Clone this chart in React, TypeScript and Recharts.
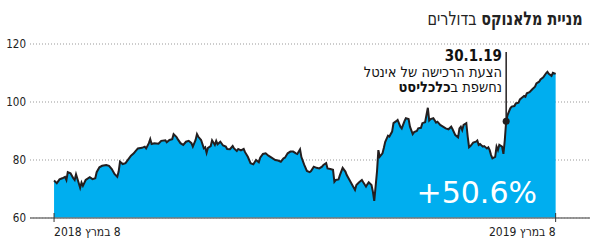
import React from 'react';
import {
  AreaChart,
  Area,
  XAxis,
  YAxis,
  CartesianGrid,
  ReferenceDot,
  ReferenceLine,
} from 'recharts';

// days since 8 March 2018
const days = [
  0, 2, 4, 6, 8, 9, 10, 12, 14, 15, 16, 18, 19, 20, 21, 23, 26, 28, 30, 31,
  33, 35, 38, 40, 42, 44, 46, 47, 48, 50, 52, 54, 56, 58, 59, 61, 64, 66, 67, 69,
  70, 71, 73, 76, 78, 81, 82, 84, 86, 87, 89, 90, 92, 94, 96, 98, 100, 101, 103, 104,
  105, 107, 109, 110, 111, 112, 114, 115, 117, 118, 119, 121, 123, 125, 126, 128, 130, 131, 133, 134,
  136, 138, 139, 141, 143, 145, 147, 149, 150, 152, 154, 156, 158, 161, 163, 165, 167, 168, 170, 172,
  174, 176, 177, 179, 180, 182, 184, 186, 187, 189, 191, 193, 195, 196, 198, 199, 201, 203, 204, 205,
  207, 208, 210, 212, 213, 215, 217, 219, 220, 222, 224, 225, 227, 228, 229, 231, 232, 233, 235, 236,
  237, 239, 240, 241, 243, 244, 246, 247, 249, 250, 252, 253, 255, 256, 258, 259, 261, 262, 264, 265,
  267, 268, 270, 271, 272, 273, 274, 276, 278, 279, 281, 283, 285, 287, 289, 290, 292, 294, 295, 296,
  297, 298, 300, 301, 302, 303, 305, 307, 308, 309, 310, 312, 313, 315, 316, 317, 318, 319, 321, 322,
  323, 324, 326, 327, 328, 329, 330, 332, 333, 335, 336, 338, 339, 340, 342, 343, 344, 346, 348, 350,
  351, 353, 354, 356, 358, 359, 360, 362, 363, 365,
];

// closing price, USD
const prices = [
  72.9, 72.0, 73.3, 73.7, 74.2, 73.1, 75.8, 75.4, 73.7, 73.1, 75.1, 72.0, 70.4, 72.2, 71.1, 73.1, 74.1, 73.4, 73.7, 75.8,
  77.5, 78.0, 78.3, 78.0, 76.9, 75.2, 74.2, 76.0, 79.4, 78.6, 78.9, 80.2, 81.5, 82.3, 82.9, 84.0, 84.2, 84.6, 84.0, 85.8,
  87.2, 85.5, 85.8, 85.6, 86.6, 86.8, 86.1, 86.9, 87.2, 88.9, 88.0, 87.2, 85.8, 85.2, 86.3, 86.6, 85.8, 84.6, 86.9, 88.9,
  88.0, 86.9, 84.0, 84.4, 82.5, 84.2, 84.8, 86.8, 85.2, 86.6, 85.4, 86.3, 85.0, 84.6, 83.8, 83.7, 84.8, 84.0, 83.1, 83.8,
  83.3, 83.8, 82.7, 81.1, 78.9, 78.5, 80.0, 79.2, 80.8, 82.1, 82.3, 81.5, 80.9, 80.0, 79.8, 79.4, 80.6, 80.8, 82.3, 82.9,
  82.9, 82.3, 82.1, 83.7, 81.0, 78.4, 76.2, 75.8, 76.2, 77.7, 77.3, 77.1, 77.7, 78.3, 78.9, 77.1, 76.9, 76.6, 72.5, 73.1,
  73.3, 74.8, 77.3, 76.0, 74.8, 73.1, 71.4, 69.7, 71.4, 72.3, 73.1, 72.3, 70.8, 71.6, 72.3, 71.4, 69.1, 65.9, 76.0, 83.4,
  81.1, 82.3, 84.2, 86.3, 88.4, 88.1, 89.8, 92.7, 93.4, 93.8, 91.5, 90.9, 93.4, 94.4, 94.1, 91.5, 88.9, 89.6, 90.0, 90.9,
  91.1, 92.7, 93.0, 95.5, 98.0, 93.6, 94.1, 94.4, 92.9, 93.2, 92.1, 91.5, 90.9, 90.6, 91.5, 90.6, 88.6, 87.8, 90.9, 91.5,
  90.3, 92.1, 92.7, 88.1, 84.4, 84.8, 86.0, 86.3, 86.7, 85.2, 85.5, 84.6, 84.8, 84.0, 84.4, 83.4, 81.7, 80.6, 81.1, 84.6,
  83.4, 85.2, 84.6, 82.1, 86.9, 93.4, 95.5, 97.8, 98.4, 98.6, 99.5, 99.8, 100.9, 101.3, 102.1, 101.8, 103.0, 103.4, 104.4, 105.3,
  106.4, 107.0, 107.8, 108.5, 109.9, 110.4, 109.7, 109.0, 110.1, 109.7,
];

const yTicks = [60, 80, 100, 120];
const xTicks = [0, 365];
const xTickLabels = ['8 במרץ 2018', '8 במרץ 2019'];

const markerDay = 329;
const markerPrice = 93.4;
const markerTop = 117.2;

const data = days.map((d, i) => ({ day: d, price: prices[i] }));

const XTick = (props: any) => {
  const { x, y, payload, index } = props;
  const first = index === 0;
  return (
    <g>
      <line x1={x} x2={x} y1={y - 5} y2={y + 4} stroke="#333" strokeWidth={1} />
      <text
        x={x}
        y={y + 18}
        textAnchor={first ? 'start' : 'end'}
        fontSize={12}
        fontFamily="'DejaVu Sans Condensed', sans-serif"
        fill="#222"
      >
        {'\u202B' + xTickLabels[xTicks.indexOf(payload.value)] + '\u202C'}
      </text>
    </g>
  );
};

export default function App() {
  return (
    <div
      style={{
        position: 'fixed',
        left: 0,
        top: 0,
        width: 590,
        height: 245,
        background: '#fff',
        fontFamily: "'DejaVu Sans Condensed', sans-serif",
      }}
    >
      <div
        dir="rtl"
        style={{
          position: 'absolute',
          right: 7,
          top: 7,
          fontSize: 19,
          color: '#222',
          whiteSpace: 'nowrap',
          transform: 'scaleX(0.84)',
          transformOrigin: 'right center',
        }}
      >
        <b>מניית מלאנוקס</b> בדולרים
      </div>

      <AreaChart
        width={590}
        height={245}
        data={data}
        margin={{ top: 44, right: 0, bottom: 0, left: 0 }}
      >
        <CartesianGrid vertical={false} stroke="#999" strokeDasharray="1 2" />
        <XAxis
          dataKey="day"
          type="number"
          domain={[-17.5, 390]}
          ticks={xTicks}
          interval={0}
          height={27}
          tickSize={0}
          tickMargin={0}
          tickLine={false}
          axisLine={{ stroke: '#777', strokeWidth: 1.5 }}
          tick={<XTick />}
        />
        <YAxis
          domain={[60, 120]}
          ticks={yTicks}
          width={30}
          tickSize={0}
          tickMargin={4}
          axisLine={false}
          tickLine={false}
          tick={{ fontSize: 11.5, fill: '#222', fontFamily: "'DejaVu Sans Condensed', sans-serif" }}
        />
        <Area
          type="linear"
          dataKey="price"
          baseValue={60}
          stroke="#231f20"
          strokeWidth={2}
          fill="#00aeef"
          fillOpacity={1}
          isAnimationActive={false}
          dot={false}
          activeDot={false}
        />
        <ReferenceLine
          segment={[
            { x: markerDay, y: markerPrice },
            { x: markerDay, y: markerTop },
          ]}
          stroke="#231f20"
          strokeWidth={1.5}
        />
        <ReferenceDot x={markerDay} y={markerPrice} r={3.5} fill="#231f20" stroke="none" />
      </AreaChart>

      <div
        dir="rtl"
        style={{
          position: 'absolute',
          right: 88,
          top: 49,
          fontSize: 14.5,
          lineHeight: '15.5px',
          color: '#111',
          whiteSpace: 'nowrap',
          textAlign: 'right',
        }}
      >
        <div style={{ fontWeight: 'bold', fontSize: 15 }}>30.1.19</div>
        <div>הצעת הרכישה של אינטל</div>
        <div>
          נחשפת ב<b>כלכליסט</b>
        </div>
      </div>

      <div
        style={{
          position: 'absolute',
          right: 53,
          top: 175,
          fontSize: 30,
          color: '#fff',
          fontFamily: "'DejaVu Sans', sans-serif",
          whiteSpace: 'nowrap',
        }}
      >
        +50.6%
      </div>
    </div>
  );
}
